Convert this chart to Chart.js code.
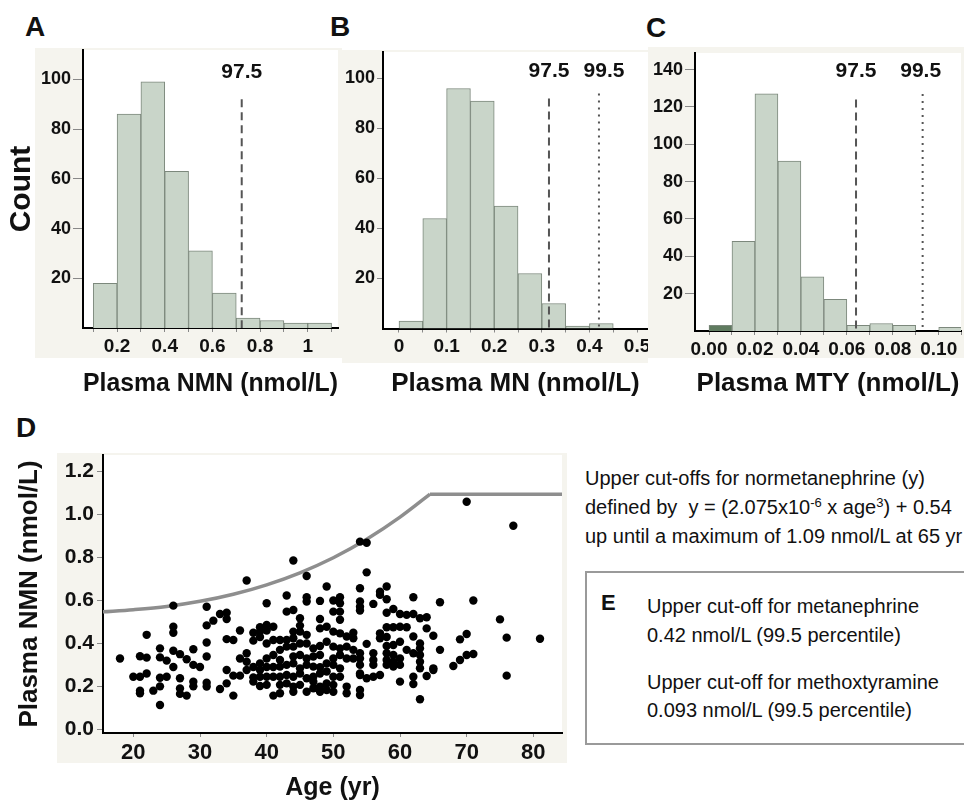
<!DOCTYPE html>
<html>
<head>
<meta charset="utf-8">
<script src="https://cdn.jsdelivr.net/npm/chart.js@4.4.1/dist/chart.umd.min.js"></script>
<style>
  html, body { margin: 0; padding: 0; background: #fff; overflow: hidden; }
  body { width: 964px; height: 801px; position: relative; font-family: "Liberation Sans", Arial, sans-serif; color: #111; }
  canvas { position: absolute; }
  .letter { position: absolute; font-weight: bold; font-size: 28px; line-height: 1; }
  .note { position: absolute; left: 585px; top: 464px; font-size: 20px; line-height: 28.8px; white-space: nowrap; }
  .note sup { font-size: 13px; line-height: 0; vertical-align: 7px; }
  .box { position: absolute; left: 585px; top: 571px; width: 420px; height: 174px; border: 2px solid #9a9a9a; box-sizing: border-box; }
  .boxtxt { position: absolute; left: 647px; font-size: 20px; line-height: 1; white-space: nowrap; }
  .eletter { position: absolute; left: 601px; top: 592px; font-size: 22px; font-weight: bold; line-height: 1; }
</style>
</head>
<body>
<div class="letter" style="left:25px;top:13px">A</div>
<div class="letter" style="left:330px;top:13px">B</div>
<div class="letter" style="left:646px;top:14px">C</div>
<div class="letter" style="left:16px;top:414px">D</div>

<canvas id="histA" width="342" height="355" style="left:0px;top:45px"></canvas>
<canvas id="histB" width="306" height="355" style="left:342px;top:45px"></canvas>
<canvas id="histC" width="316" height="355" style="left:648px;top:45px"></canvas>
<canvas id="scatterD" width="580" height="351" style="left:0px;top:450px"></canvas>

<div class="note">Upper cut-offs for normetanephrine (y)<br>defined by&nbsp; y = (2.075x10<sup>-6</sup> x age<sup>3</sup>) + 0.54<br>up until a maximum of 1.09 nmol/L at 65 yr</div>
<div class="box"></div>
<div class="eletter">E</div>
<div class="boxtxt" style="top:596px">Upper cut-off for metanephrine</div>
<div class="boxtxt" style="top:625px">0.42 nmol/L (99.5 percentile)</div>
<div class="boxtxt" style="top:672px">Upper cut-off for methoxtyramine</div>
<div class="boxtxt" style="top:700px">0.093 nmol/L (99.5 percentile)</div>

<script>
// ---- histogram A : plasma NMN ----
const binsA = [0.15, 0.25, 0.35, 0.45, 0.55, 0.65, 0.75, 0.85, 0.95, 1.05];
const countsA = [18, 86, 99, 63, 31, 14, 4, 3, 2, 2];
const xTicksA = [0.1, 0.2, 0.3, 0.4, 0.5, 0.6, 0.7, 0.8, 0.9, 1.0, 1.1];
const xLabelsA = ['', '0.2', '', '0.4', '', '0.6', '', '0.8', '', '1', ''];
const cutsA = [0.723];
const cutLabelsA = ['97.5'];

// ---- histogram B : plasma MN ----
const binsB = [0.025, 0.075, 0.125, 0.175, 0.225, 0.275, 0.325, 0.375, 0.425, 0.475];
const countsB = [3, 44, 96, 91, 49, 22, 10, 1, 2, 0];
const xTicksB = [0, 0.05, 0.1, 0.15, 0.2, 0.25, 0.3, 0.35, 0.4, 0.45, 0.5];
const xLabelsB = ['0', '', '0.1', '', '0.2', '', '0.3', '', '0.4', '', '0.5'];
const cutsB = [0.315, 0.42];
const cutLabelsB = ['97.5', '99.5'];

// ---- histogram C : plasma MTY ----
const binsC = [0.005, 0.015, 0.025, 0.035, 0.045, 0.055, 0.065, 0.075, 0.085, 0.095, 0.105];
const countsC = [3, 48, 127, 91, 29, 17, 3, 4, 3, 0, 2];
const xTicksC = [0, 0.01, 0.02, 0.03, 0.04, 0.05, 0.06, 0.07, 0.08, 0.09, 0.1, 0.11];
const xLabelsC = ['0.00', '', '0.02', '', '0.04', '', '0.06', '', '0.08', '', '0.10', ''];
const cutsC = [0.064, 0.093];
const cutLabelsC = ['97.5', '99.5'];

const yTicksAB = [20, 40, 60, 80, 100];
const yTicksC = [20, 40, 60, 80, 100, 120, 140];

// ---- scatter D : NMN vs age ----
const ageD = [
  18, 20, 21, 21, 21, 21, 22, 22, 22, 23, 24, 24, 24, 24, 24, 25, 25,
  26, 26, 26, 26, 26, 27, 27, 27, 27, 28, 28, 29, 29, 29, 29, 30,
  31, 31, 31, 31, 31, 31, 32, 33, 33, 34, 34, 34, 34, 34, 35, 35, 35,
  36, 36, 36, 37, 37, 37, 37, 38, 38, 38, 38, 38,
  39, 39, 39, 39, 39, 39, 39, 40, 40, 40, 40, 40, 40, 40, 40,
  41, 41, 41, 41, 41, 41,
  44, 46, 49, 43, 46, 46, 48, 50, 51, 51, 43, 44, 45, 50, 51, 51, 48, 48, 45, 49,
  44, 45, 46, 42, 43, 44, 50, 51, 52, 53,
  42, 43, 44, 45, 46, 47, 48, 49, 50, 51, 52,
  42, 44, 45, 46, 47, 48, 50, 51, 52,
  42, 43, 44, 45, 46, 47, 48, 49, 50, 51,
  42, 43, 44, 45, 46, 47, 48, 49, 50, 51,
  42, 43, 44, 45, 47, 48, 49, 50, 52,
  42, 44, 46, 47, 48, 49, 50, 52,
  54, 55, 55, 54, 58, 57, 57, 58, 56, 54, 54, 54, 62,
  58, 59, 60, 61, 62, 63, 64, 58, 59, 60, 61, 57, 57, 58, 62, 64, 53, 55, 63, 63,
  58, 59, 60, 61, 62, 53, 54, 53, 54, 56, 56, 56,
  58, 58, 59, 59, 60, 60, 58, 59, 63, 63, 63, 54, 54, 65,
  54, 55, 56, 57, 60, 62, 62, 64, 54, 54, 63,
  66, 71, 75, 65, 69, 70, 76, 81, 66, 68, 69, 70, 71, 65, 76, 70, 77
];
const nmnD = [
  0.33, 0.245, 0.34, 0.245, 0.18, 0.168, 0.44, 0.334, 0.26, 0.18, 0.377, 0.335, 0.24, 0.2, 0.113, 0.32, 0.245,
  0.576, 0.478, 0.45, 0.366, 0.29, 0.35, 0.238, 0.19, 0.165, 0.326, 0.157, 0.373, 0.30, 0.222, 0.2, 0.29,
  0.571, 0.484, 0.404, 0.339, 0.217, 0.199, 0.506, 0.537, 0.188, 0.543, 0.514, 0.42, 0.276, 0.214, 0.416, 0.25, 0.157,
  0.46, 0.33, 0.25, 0.693, 0.354, 0.315, 0.276, 0.45, 0.413, 0.29, 0.242, 0.222,
  0.475, 0.455, 0.43, 0.307, 0.276, 0.245, 0.202, 0.587, 0.486, 0.46, 0.4, 0.33, 0.29, 0.245, 0.207,
  0.478, 0.416, 0.346, 0.29, 0.245, 0.157,
  0.786, 0.714, 0.665, 0.623, 0.615, 0.595, 0.598, 0.6, 0.615, 0.587, 0.548, 0.556, 0.517, 0.548, 0.548, 0.51, 0.514, 0.47, 0.483, 0.478,
  0.455, 0.455, 0.44, 0.416, 0.416, 0.424, 0.455, 0.447, 0.432, 0.424,
  0.37, 0.385, 0.385, 0.4, 0.4, 0.377, 0.388, 0.408, 0.385, 0.377, 0.385,
  0.323, 0.339, 0.346, 0.33, 0.339, 0.346, 0.33, 0.346, 0.33,
  0.292, 0.3, 0.307, 0.284, 0.3, 0.292, 0.289, 0.307, 0.3, 0.284,
  0.245, 0.253, 0.245, 0.26, 0.238, 0.245, 0.26, 0.269, 0.245, 0.245,
  0.207, 0.214, 0.199, 0.207, 0.222, 0.199, 0.214, 0.207, 0.199,
  0.168, 0.175, 0.175, 0.191, 0.175, 0.183, 0.175, 0.168,
  0.874, 0.869, 0.731, 0.657, 0.665, 0.641, 0.626, 0.606, 0.584, 0.595, 0.571, 0.553, 0.615,
  0.543, 0.56, 0.537, 0.533, 0.537, 0.517, 0.522, 0.475, 0.475, 0.478, 0.475, 0.447, 0.424, 0.43, 0.432, 0.47, 0.45, 0.398, 0.4, 0.377,
  0.388, 0.393, 0.408, 0.37, 0.354, 0.37, 0.354, 0.33, 0.33, 0.354, 0.323, 0.3,
  0.354, 0.323, 0.346, 0.315, 0.33, 0.3, 0.3, 0.292, 0.346, 0.315, 0.284, 0.3, 0.26, 0.284,
  0.253, 0.238, 0.245, 0.253, 0.222, 0.245, 0.211, 0.248, 0.183, 0.16, 0.14,
  0.592, 0.6, 0.512, 0.436, 0.419, 0.444, 0.427, 0.422, 0.37, 0.295, 0.323, 0.346, 0.351, 0.276, 0.25, 1.06, 0.948
];
const curveAge = [15.4, 20, 25, 30, 35, 40, 45, 50, 55, 60, 64.5];
const curveNmn = [0.547, 0.557, 0.572, 0.596, 0.629, 0.673, 0.729, 0.799, 0.885, 0.988, 1.095];
const capAge = [64.5, 84.3];
const capNmn = [1.095, 1.095];
const xTicksD = [20, 30, 40, 50, 60, 70, 80];
const yTicksD = [0, 0.2, 0.4, 0.6, 0.8, 1.0, 1.2];
const yLabelsD = ['0.0', '0.2', '0.4', '0.6', '0.8', '1.0', '1.2'];

const FONT = '"Liberation Sans", Arial, sans-serif';
const BEIGE = '#f5f4ee';
const INK = '#111';

// beige frame around the axes, white plot area
const panelBg = {
  id: 'panelBg',
  beforeDraw(chart, args, opts) {
    const { ctx, chartArea } = chart;
    ctx.save();
    ctx.fillStyle = BEIGE;
    ctx.fillRect(opts.left, opts.top, opts.right - opts.left, opts.bottom - opts.top);
    ctx.fillStyle = '#fff';
    ctx.fillRect(chartArea.left, chartArea.top, chartArea.right - chartArea.left, chartArea.bottom - chartArea.top);
    ctx.restore();
  }
};

// percentile reference lines with their labels
const cutoffs = {
  id: 'cutoffs',
  afterDatasetsDraw(chart, args, opts) {
    const { ctx, scales: { x, y } } = chart;
    opts.lines.forEach(l => {
      const px = x.getPixelForValue(l.x);
      ctx.save();
      ctx.strokeStyle = '#555';
      ctx.lineWidth = 2;
      ctx.setLineDash(l.dash);
      ctx.beginPath();
      ctx.moveTo(px, y.getPixelForValue(l.top));
      ctx.lineTo(px, y.getPixelForValue(0));
      ctx.stroke();
      ctx.setLineDash([]);
      ctx.fillStyle = INK;
      ctx.font = 'bold 21px ' + FONT;
      ctx.textAlign = 'center';
      ctx.textBaseline = 'middle';
      ctx.fillText(l.label, px + (l.dx || 0), y.getPixelForValue(opts.labelAt));
      ctx.restore();
    });
  }
};

// fixed axis sizes so the plot areas land where the figure has them
function fitX(h) {
  return s => { s.height = h; s.paddingLeft = 0; s.paddingRight = 0; };
}
function fitY(w) {
  return s => { s.width = w; s.paddingTop = 0; s.paddingBottom = 0; };
}

function makeHist(id, cfg) {
  const el = document.getElementById(id);
  return new Chart(el, {
    type: 'bar',
    data: {
      datasets: [{
        data: cfg.bins.map((b, i) => ({ x: b, y: cfg.counts[i] })),
        backgroundColor: cfg.colors || '#c9d5c9',
        borderColor: '#7c887c',
        borderWidth: 1,
        borderSkipped: 'start',
        barPercentage: 1,
        categoryPercentage: 1
      }]
    },
    options: {
      responsive: false,
      animation: false,
      events: [],
      layout: { padding: { top: cfg.padTop, right: cfg.padRight, left: 0, bottom: 0 } },
      plugins: {
        legend: { display: false },
        tooltip: { enabled: false },
        panelBg: cfg.bg,
        cutoffs: { lines: cfg.lines, labelAt: cfg.labelAt }
      },
      scales: {
        x: {
          type: 'linear',
          min: cfg.xMin,
          max: cfg.xMax,
          offset: false,
          afterFit: fitX(cfg.xHeight),
          afterBuildTicks: s => { s.ticks = cfg.xTicks.map(v => ({ value: v })); },
          ticks: {
            callback: (v, i) => cfg.xLabels[i],
            autoSkip: false,
            maxRotation: 0,
            padding: 3,
            color: INK,
            font: { family: FONT, size: 19, weight: 'bold' }
          },
          grid: { offset: false, drawOnChartArea: false, tickLength: 4, color: '#888' },
          border: { color: '#000', width: 2 },
          title: {
            display: true,
            text: cfg.xTitle,
            color: INK,
            font: { family: FONT, size: 26, weight: 'bold', lineHeight: 1 },
            padding: { top: 0, bottom: 3.5 }
          }
        },
        y: {
          min: 0,
          max: cfg.yMax,
          afterFit: fitY(cfg.yWidth),
          afterBuildTicks: s => { s.ticks = cfg.yTicks.map(v => ({ value: v })); },
          ticks: {
            padding: 2,
            color: INK,
            font: { family: FONT, size: 18, weight: 'bold' }
          },
          grid: { drawOnChartArea: false, tickLength: cfg.yTick, color: '#888' },
          border: { color: '#000', width: 2 },
          title: cfg.yTitle ? {
            display: true,
            text: cfg.yTitle,
            color: INK,
            font: { family: FONT, size: 30, weight: 'bold', lineHeight: 1 },
            padding: { top: 7, bottom: 0 }
          } : { display: false }
        }
      }
    },
    plugins: [panelBg, cutoffs]
  });
}

function cutLines(cuts, labels, tops, shifts) {
  return cuts.map((c, i) => ({
    x: c,
    label: labels[i],
    top: tops[i],
    dx: shifts ? shifts[i] : 0,
    dash: i === 0 ? [8, 5] : [2, 5]
  }));
}

makeHist('histA', {
  bins: binsA, counts: countsA, xTicks: xTicksA, xLabels: xLabelsA, yTicks: yTicksAB,
  xMin: 0.057, xMax: 1.127, yMax: 111.8,
  padTop: 5, padRight: 4, xHeight: 72, yWidth: 83, yTick: 10,
  xTitle: 'Plasma NMN (nmol/L)', yTitle: 'Count',
  bg: { left: 35, top: 3, right: 342, bottom: 313 },
  lines: cutLines(cutsA, cutLabelsA, [92]), labelAt: 103
});

makeHist('histB', {
  bins: binsB, counts: countsB, xTicks: xTicksB, xLabels: xLabelsB, yTicks: yTicksAB,
  xMin: -0.0336, xMax: 0.523, yMax: 110.6,
  padTop: 7, padRight: 0, xHeight: 71.5, yWidth: 41, yTick: 6,
  xTitle: 'Plasma MN (nmol/L)',
  bg: { left: 0, top: 5, right: 306, bottom: 318 },
  lines: cutLines(cutsB, cutLabelsB, [92, 94], [0, 5]), labelAt: 102.8
});

makeHist('histC', {
  bins: binsC, counts: countsC, xTicks: xTicksC, xLabels: xLabelsC, yTicks: yTicksC,
  colors: countsC.map((c, i) => i === 0 ? '#5f7b5f' : '#c9d5c9'),
  xMin: -0.0061, xMax: 0.1097, yMax: 148.9,
  padTop: 8, padRight: 3, xHeight: 69, yWidth: 47, yTick: 10,
  xTitle: 'Plasma MTY (nmol/L)',
  bg: { left: 0, top: 2, right: 316, bottom: 313 },
  lines: cutLines(cutsC, cutLabelsC, [124, 127], [0, -2]), labelAt: 138.9
});

// ---- panel D ----
new Chart(document.getElementById('scatterD'), {
  type: 'scatter',
  data: {
    datasets: [
      {
        data: ageD.map((a, i) => ({ x: a, y: nmnD[i] })),
        pointRadius: 4.2,
        backgroundColor: '#000',
        borderWidth: 0,
        order: 0
      },
      {
        type: 'line',
        data: curveAge.map((a, i) => ({ x: a, y: curveNmn[i] })),
        borderColor: '#8e8e8e',
        borderWidth: 3.5,
        pointRadius: 0,
        cubicInterpolationMode: 'monotone',
        fill: false,
        order: 1
      },
      {
        type: 'line',
        data: capAge.map((a, i) => ({ x: a, y: capNmn[i] })),
        borderColor: '#8e8e8e',
        borderWidth: 3.5,
        pointRadius: 0,
        fill: false,
        order: 1
      }
    ]
  },
  options: {
    responsive: false,
    animation: false,
    events: [],
    layout: { padding: { top: 5, right: 18, left: 0, bottom: 0 } },
    plugins: {
      legend: { display: false },
      tooltip: { enabled: false },
      panelBg: { left: 57, top: 3, right: 567, bottom: 313 }
    },
    scales: {
      x: {
        type: 'linear',
        min: 15.45,
        max: 84.3,
        afterFit: fitX(68),
        afterBuildTicks: s => { s.ticks = xTicksD.map(v => ({ value: v })); },
        ticks: {
          padding: 3,
          color: INK,
          font: { family: FONT, size: 22, weight: 'bold' }
        },
        grid: { drawOnChartArea: false, tickLength: 4, color: '#888' },
        border: { color: '#000', width: 2 },
        title: {
          display: true,
          text: 'Age (yr)',
          color: INK,
          font: { family: FONT, size: 25, weight: 'bold', lineHeight: 1 },
          padding: { top: 0, bottom: 0.5 }
        }
      },
      y: {
        min: -0.0172,
        max: 1.2776,
        afterFit: fitY(103),
        afterBuildTicks: s => { s.ticks = yTicksD.map(v => ({ value: v })); },
        ticks: {
          callback: (v, i) => yLabelsD[i],
          padding: 3,
          color: INK,
          font: { family: FONT, size: 21, weight: 'bold' }
        },
        grid: { drawOnChartArea: false, tickLength: 6, color: '#888' },
        border: { color: '#000', width: 2 },
        title: {
          display: true,
          text: 'Plasma NMN (nmol/L)',
          color: INK,
          font: { family: FONT, size: 26, weight: 'bold', lineHeight: 1 },
          padding: { top: 16.5, bottom: 0 }
        }
      }
    }
  },
  plugins: [panelBg]
});
</script>
</body>
</html>
